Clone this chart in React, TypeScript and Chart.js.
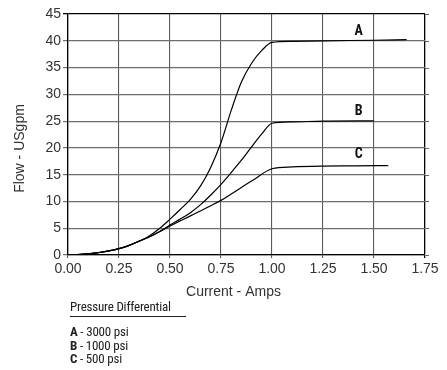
import { useEffect, useRef } from "react";
import { Chart, registerables } from "chart.js";

Chart.register(...registerables);

// ---- data ----
const xTickValues = [0, 0.25, 0.5, 0.75, 1.0, 1.25, 1.5, 1.75];
const yTickValues = [0, 5, 10, 15, 20, 25, 30, 35, 40, 45];

const seriesNames = ["A", "B", "C"];

const aX = [0.02, 0.1, 0.15, 0.2, 0.25, 0.3, 0.35, 0.4, 0.45, 0.5, 0.55, 0.6, 0.65, 0.7, 0.75, 0.8, 0.85, 0.9, 0.95, 1.0, 1.1, 1.25, 1.5, 1.66];
const aY = [0, 0.2, 0.45, 0.76, 1.2, 1.8, 2.6, 3.6, 5.0, 6.7, 8.5, 10.4, 12.9, 16.4, 21.0, 27.0, 32.3, 35.8, 38.2, 39.7, 39.9, 40.0, 40.1, 40.2];

const bX = [0.02, 0.1, 0.15, 0.2, 0.25, 0.3, 0.35, 0.4, 0.45, 0.5, 0.55, 0.6, 0.65, 0.7, 0.75, 0.8, 0.85, 0.9, 0.95, 1.0, 1.1, 1.25, 1.5];
const bY = [0, 0.2, 0.45, 0.76, 1.2, 1.8, 2.6, 3.4, 4.4, 5.6, 6.7, 7.9, 9.4, 11.2, 13.2, 15.4, 17.7, 20.2, 22.6, 24.6, 24.85, 25.0, 25.05];

const cX = [0.02, 0.1, 0.15, 0.2, 0.25, 0.3, 0.35, 0.4, 0.45, 0.5, 0.6, 0.7, 0.75, 0.8, 0.9, 1.0, 1.1, 1.25, 1.4, 1.57];
const cY = [0, 0.2, 0.45, 0.76, 1.2, 1.8, 2.6, 3.4, 4.4, 5.4, 7.3, 9.2, 10.2, 11.4, 13.8, 16.1, 16.45, 16.6, 16.65, 16.7];

const curveLabelX = [1.425, 1.425, 1.425];
const curveLabelY = [41.7, 26.8, 18.8];

const legendTitle = "Pressure Differential";
const legendKeys = ["A", "B", "C"];
const legendTexts = [" - 3000 psi", " - 1000 psi", " - 500 psi"];

const xTitle = "Current - Amps";
const yTitle = "Flow - USgpm";

const TICK_FONT = '"Liberation Sans", Arial, sans-serif';
const NARROW_FONT = '"Roboto Condensed", "DejaVu Sans Condensed", sans-serif';

const toPoints = (xs: number[], ys: number[]) => xs.map((x, i) => ({ x, y: ys[i] }));

const annotPlugin = {
  id: "annot",
  afterDraw(chart: any) {
    const { ctx, chartArea, scales } = chart;
    const x = scales.x;
    const y = scales.y;
    ctx.save();
    // small extensions of horizontal grid lines beyond right border
    ctx.strokeStyle = "#666";
    ctx.lineWidth = 1;
    yTickValues.forEach((v) => {
      const py = Math.round(y.getPixelForValue(v)) + 0.5;
      ctx.beginPath();
      ctx.moveTo(chartArea.right, py);
      ctx.lineTo(chartArea.right + 4, py);
      ctx.stroke();
    });
    // curve labels
    ctx.fillStyle = "#111";
    ctx.font = "bold 14px " + NARROW_FONT;
    ctx.textAlign = "center";
    ctx.textBaseline = "middle";
    seriesNames.forEach((n, i) => {
      ctx.fillText(n, x.getPixelForValue(curveLabelX[i]), y.getPixelForValue(curveLabelY[i]));
    });
    // axis titles
    ctx.fillStyle = "#333";
    ctx.font = "14px " + TICK_FONT;
    ctx.fillText(xTitle, (chartArea.left + chartArea.right) / 2 - 13, chartArea.bottom + 37);
    ctx.translate(20, (chartArea.top + chartArea.bottom) / 2 + 14);
    ctx.rotate(-Math.PI / 2);
    ctx.fillText(yTitle, 0, 0);
    ctx.restore();
  },
};

export default function App() {
  const canvasRef = useRef<HTMLCanvasElement | null>(null);

  useEffect(() => {
    if (!canvasRef.current) return;
    const chart = new Chart(canvasRef.current, {
      type: "line",
      data: {
        datasets: [
          { label: "A", data: toPoints(aX, aY) },
          { label: "B", data: toPoints(bX, bY) },
          { label: "C", data: toPoints(cX, cY) },
        ].map((d) => ({
          ...d,
          borderColor: "#000",
          borderWidth: 1.2,
          pointRadius: 0,
          fill: false,
          cubicInterpolationMode: "monotone" as const,
        })),
      },
      options: {
        animation: false,
        responsive: false,
        maintainAspectRatio: false,
        layout: { padding: { left: 0, top: 14, right: 22, bottom: 0 } },
        plugins: { legend: { display: false }, tooltip: { enabled: false } },
        scales: {
          x: {
            type: "linear",
            min: 0,
            max: 1.75,
            afterFit: (s: any) => {
              s.height = 55;
            },
            afterBuildTicks: (s: any) => {
              s.ticks = xTickValues.map((v) => ({ value: v }));
            },
            ticks: {
              color: "#333",
              font: { family: TICK_FONT, size: 14 },
              padding: 3,
              maxRotation: 0,
              callback: (v: any) => Number(v).toFixed(2),
            },
            grid: {
              color: (c: any) => (c.tick && c.tick.value === 1.75 ? "#000" : "#5a5a5a"),
              lineWidth: (c: any) => (c.tick && c.tick.value === 1.75 ? 1.3 : 1.1),
              tickLength: 3,
            },
            border: { color: "#000", width: 1.3 },
          },
          y: {
            type: "linear",
            min: 0,
            max: 45,
            afterFit: (s: any) => {
              s.width = 68;
            },
            afterBuildTicks: (s: any) => {
              s.ticks = yTickValues.map((v) => ({ value: v }));
            },
            ticks: {
              color: "#333",
              font: { family: TICK_FONT, size: 14 },
              padding: 2,
            },
            grid: {
              color: (c: any) => (c.tick && c.tick.value === 45 ? "#000" : "#6e6e6e"),
              lineWidth: (c: any) => (c.tick && c.tick.value === 45 ? 1.3 : 1.2),
              tickLength: 5,
            },
            border: { color: "#000", width: 1.3 },
          },
        },
      },
      plugins: [annotPlugin],
    });
    return () => chart.destroy();
  }, []);

  const lineStyle = (top: number): React.CSSProperties => ({
    position: "absolute",
    left: 70,
    top,
    fontFamily: NARROW_FONT,
    fontSize: 13,
    letterSpacing: "-0.2px",
    lineHeight: "14px",
    color: "#222",
    whiteSpace: "nowrap",
  });

  return (
    <div style={{ position: "absolute", left: 0, top: 0, width: 447, height: 370, background: "#fff" }}>
      <canvas ref={canvasRef} width={447} height={310} style={{ position: "absolute", left: 0, top: 0 }} />
      <div style={lineStyle(299.5)}>{legendTitle}</div>
      <div style={{ position: "absolute", left: 70, top: 316, width: 116, height: 0, borderTop: "1.3px solid #222" }} />
      {legendKeys.map((k, i) => (
        <div key={k} style={lineStyle(325 + i * 13.5)}>
          <b>{k}</b>
          {legendTexts[i]}
        </div>
      ))}
    </div>
  );
}
